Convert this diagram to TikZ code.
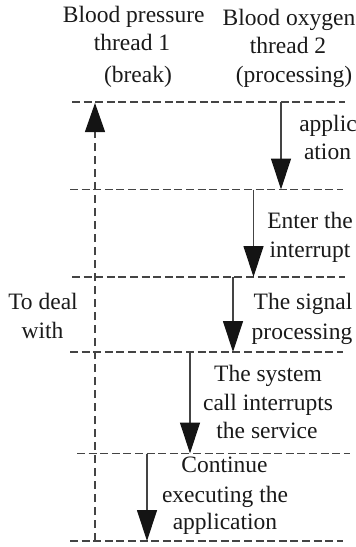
\documentclass[tikz,border=0pt]{standalone}
\usepackage{fontspec}
\setmainfont{Liberation Serif}
\usetikzlibrary{arrows.meta}
\definecolor{shaft}{HTML}{444444}
\definecolor{headc}{HTML}{141414}
\definecolor{inkc}{HTML}{1A1A1A}
\tikzset{
  lbl/.style={anchor=base,inner sep=0pt,outer sep=0pt,font=\fontsize{23.5}{28}\selectfont,text=inkc},
  level/.style={draw=shaft,line width=1.1pt,dash pattern=on 8pt off 3.6pt},
  flow/.style={draw=shaft,line width=1.2pt,-{Triangle[length=31pt,width=20pt,color=headc]}},
  back/.style={draw=shaft,line width=1.2pt,dash pattern=on 8pt off 5pt,-{Triangle[length=29pt,width=20pt,color=headc]}}
}
\begin{document}
\begin{tikzpicture}[x=1pt,y=-1pt]
\useasboundingbox (0,0) rectangle (356,547);
% levels
\coordinate (l1a) at (72,102);    \coordinate (l1b) at (345,102);
\coordinate (l2a) at (70,189.5);  \coordinate (l2b) at (343,189.5);
\coordinate (l3a) at (72,277);    \coordinate (l3b) at (345,277);
\coordinate (l4a) at (70,352);    \coordinate (l4b) at (343,352);
\coordinate (l5a) at (77,453.5);  \coordinate (l5b) at (350,453.5);
\coordinate (l6a) at (70,541);    \coordinate (l6b) at (343,541);
\draw[level] (l1a) -- (l1b);
\draw[level] (l2a) -- (l2b);
\draw[level] (l3a) -- (l3b);
\draw[level] (l4a) -- (l4b);
\draw[level] (l5a) -- (l5b);
\draw[level] (l6a) -- (l6b);
% flow arrows
\coordinate (a1s) at (281,102);    \coordinate (a1e) at (281,189.5);
\coordinate (a2s) at (253.5,189.5);\coordinate (a2e) at (253.5,277);
\coordinate (a3s) at (233,277);    \coordinate (a3e) at (233,352);
\coordinate (a4s) at (190,352);    \coordinate (a4e) at (190,453.5);
\coordinate (a5s) at (147,453.5);  \coordinate (a5e) at (147,541);
\draw[flow] (a1s) -- (a1e);
\draw[flow] (a2s) -- (a2e);
\draw[flow] (a3s) -- (a3e);
\draw[flow] (a4s) -- (a4e);
\draw[flow] (a5s) -- (a5e);
% return arrow
\coordinate (bs) at (95,541); \coordinate (be) at (95,103);
\draw[back] (bs) -- (be);
% labels
\node[lbl] (t1a) at (133.7,22) {Blood pressure};
\node[lbl] (t1b) at (132,50) {thread 1};
\node[lbl] (t1c) at (138,82) {(break)};
\node[lbl] (t2a) at (289,25) {Blood oxygen};
\node[lbl] (t2b) at (288,53) {thread 2};
\node[lbl] (t2c) at (294,82) {(processing)};
\node[lbl] (n1a) at (328,131) {applic};
\node[lbl] (n1b) at (327.5,159) {ation};
\node[lbl] (n2a) at (310,228) {Enter the};
\node[lbl] (n2b) at (310,257) {interrupt};
\node[lbl] (n3a) at (303,309) {The signal};
\node[lbl] (n3b) at (302,339) {processing};
\node[lbl] (n4a) at (43,309) {To deal};
\node[lbl] (n4b) at (42.5,338) {with};
\node[lbl] (n5a) at (268,381) {The system};
\node[lbl] (n5b) at (268,410) {call interrupts};
\node[lbl] (n5c) at (267,438) {the service};
\node[lbl] (n6a) at (224.5,472) {Continue};
\node[lbl] (n6b) at (225,502) {executing the};
\node[lbl] (n6c) at (225,529) {application};
\end{tikzpicture}
\end{document}
